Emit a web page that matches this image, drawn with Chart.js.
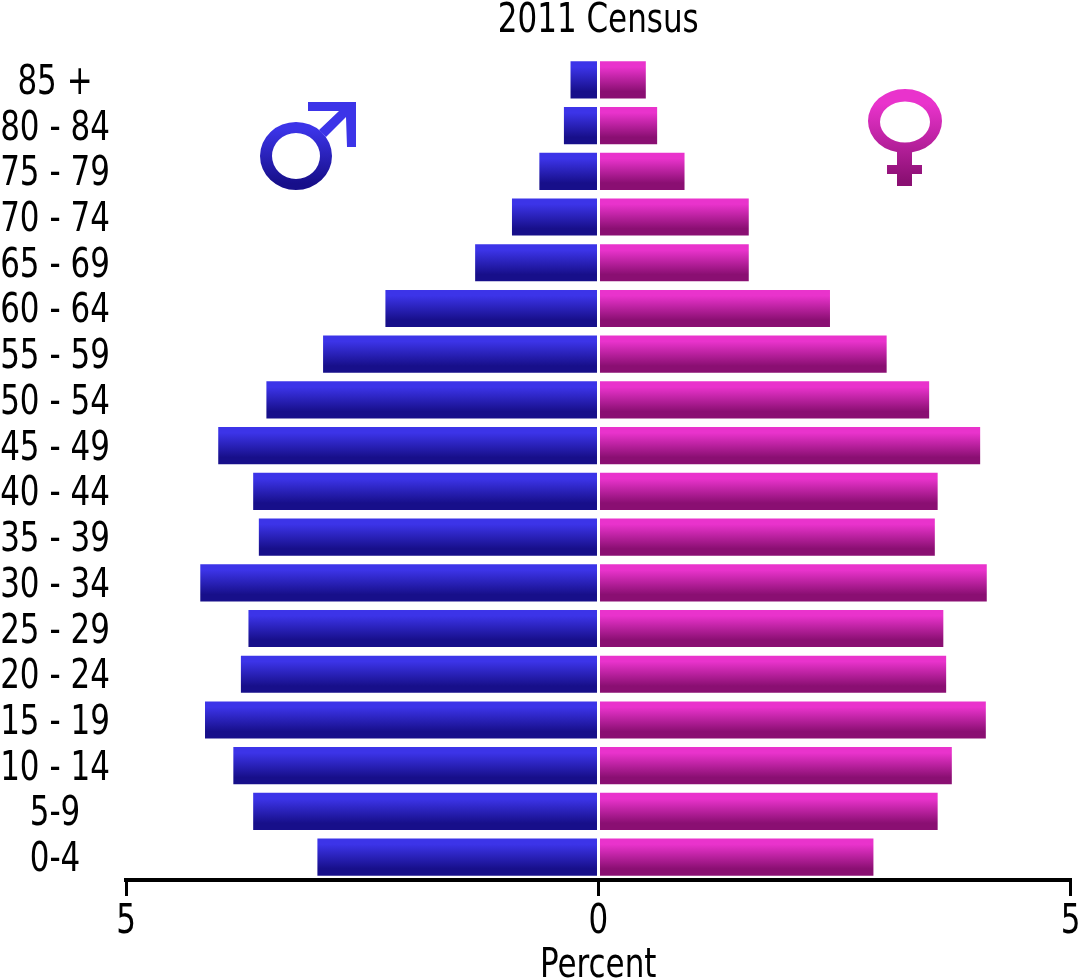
<!DOCTYPE html>
<html>
<head>
<meta charset="utf-8">
<title>2011 Census</title>
<script src="https://cdn.jsdelivr.net/npm/chart.js@4"></script>
<style>
    html, body { margin: 0; padding: 0; background: #fff; }
    canvas { display: block; }
</style>
</head>
<body>
<canvas id="pyramid" width="1080" height="979"></canvas>
<script>
// Age groups, top of the pyramid first
const ageGroups = ['85 +', '80 - 84', '75 - 79', '70 - 74', '65 - 69', '60 - 64', '55 - 59', '50 - 54', '45 - 49',
    '40 - 44', '35 - 39', '30 - 34', '25 - 29', '20 - 24', '15 - 19', '10 - 14', '5-9', '0-4'];

// Percent of population, males are negative so they go left
const males = [-0.29, -0.36, -0.62, -0.91, -1.30, -2.25, -2.91, -3.51, -4.02,
    -3.65, -3.59, -4.21, -3.70, -3.78, -4.16, -3.86, -3.65, -2.97];
const females = [0.50, 0.62, 0.91, 1.59, 1.59, 2.45, 3.05, 3.50, 4.04,
    3.59, 3.56, 4.11, 3.65, 3.68, 4.10, 3.74, 3.59, 2.91];

const xTicks = [-5, 0, 5];

const chartTitle = '2011 Census';
const xTitle = 'Percent';

const maleTop = '#3c34e8';
const maleBottom = '#170f8a';
const femaleTop = '#e933cc';
const femaleBottom = '#8a0f72';

const barHeight = 36.5;

// Vertical gradient for one bar, bright on top and dark at the bottom
function barGradient(context, top, bottom) {
    const chart = context.chart;
    if (!chart.chartArea) return top;
    const y = chart.scales.y.getPixelForValue(context.dataIndex);
    const g = chart.ctx.createLinearGradient(0, y - barHeight / 2, 0, y + barHeight / 2);
    g.addColorStop(0.15, top);
    g.addColorStop(0.82, bottom);
    return g;
}

// The original lettering is DejaVu squeezed sideways, so text is drawn with a horizontal scale
function drawLabel(ctx, text, x, baseline) {
    ctx.save();
    ctx.translate(x, baseline);
    ctx.scale(0.84, 1);
    ctx.font = "41px 'DejaVu Sans Condensed', 'DejaVu Sans'";
    ctx.fillStyle = '#000';
    ctx.textAlign = 'center';
    ctx.textBaseline = 'alphabetic';
    ctx.fillText(text, 0, 0);
    ctx.restore();
}

// Tick labels and titles
const textPlugin = {
    id: 'squeezedText',
    afterDraw(chart) {
        const ctx = chart.ctx;
        const { x, y } = chart.scales;
        y.ticks.forEach((tick, i) => drawLabel(ctx, tick.label, 55, y.getPixelForTick(i) + 14));
        x.ticks.forEach((tick, i) => drawLabel(ctx, tick.label, x.getPixelForTick(i), 933));
        drawLabel(ctx, chartTitle, x.getPixelForValue(0), 32);
        drawLabel(ctx, xTitle, x.getPixelForValue(0), 977);
    }
};

// Male and female symbols above the bars
const symbolsPlugin = {
    id: 'symbols',
    afterDatasetsDraw(chart) {
        const ctx = chart.ctx;
        ctx.save();

        // male ring
        let g = ctx.createLinearGradient(0, 122, 0, 190);
        g.addColorStop(0.1, maleTop);
        g.addColorStop(0.9, maleBottom);
        ctx.fillStyle = g;
        ctx.beginPath();
        ctx.ellipse(296, 156, 36, 34, 0, 0, Math.PI * 2);
        ctx.ellipse(296, 156, 24, 23, 0, 0, Math.PI * 2, true);
        ctx.fill();

        // male arrow
        ctx.fillStyle = maleTop;
        ctx.beginPath();
        ctx.moveTo(308, 102);
        ctx.lineTo(356, 102);
        ctx.lineTo(356, 147);
        ctx.lineTo(347, 147);
        ctx.lineTo(346, 117);
        ctx.lineTo(326, 137);
        ctx.lineTo(319, 130);
        ctx.lineTo(339, 111);
        ctx.lineTo(308, 111);
        ctx.closePath();
        ctx.fill();

        // female ring, stem and bar share one gradient
        g = ctx.createLinearGradient(0, 89, 0, 186);
        g.addColorStop(0.15, femaleTop);
        g.addColorStop(0.95, femaleBottom);
        ctx.fillStyle = g;
        ctx.beginPath();
        ctx.ellipse(905, 121, 37, 32, 0, 0, Math.PI * 2);
        ctx.ellipse(905, 122, 25, 20.5, 0, 0, Math.PI * 2, true);
        ctx.fill();
        ctx.fillRect(897, 151, 15, 35);
        ctx.fillRect(887, 165, 35, 9);

        ctx.restore();
    }
};

new Chart(document.getElementById('pyramid'), {
    type: 'bar',
    plugins: [symbolsPlugin, textPlugin],
    data: {
        labels: ageGroups,
        datasets: [
            {
                label: 'Male',
                data: males,
                barThickness: barHeight,
                backgroundColor: ctx => barGradient(ctx, maleTop, maleBottom)
            },
            {
                label: 'Female',
                data: females,
                barThickness: barHeight,
                backgroundColor: ctx => barGradient(ctx, femaleTop, femaleBottom)
            }
        ]
    },
    options: {
        indexAxis: 'y',
        responsive: false,
        animation: false,
        devicePixelRatio: 1,
        layout: { padding: { top: 57, right: 9.5, left: 0, bottom: 0 } },
        plugins: {
            legend: { display: false },
            tooltip: { enabled: false },
            title: { display: false }
        },
        scales: {
            x: {
                type: 'linear',
                min: -5,
                max: 5,
                afterBuildTicks: axis => { axis.ticks = xTicks.map(v => ({ value: v })); },
                afterFit: axis => { axis.height = 99; },
                border: { color: '#000', width: 4, z: 2 },
                // only the zero line shows, white, over the bars
                grid: {
                    z: 1,
                    drawTicks: true,
                    tickLength: 16,
                    tickColor: '#000',
                    tickWidth: 3,
                    lineWidth: 3,
                    color: c => (c.tick && c.tick.value === 0 ? '#fff' : 'rgba(0,0,0,0)')
                },
                ticks: {
                    display: false,
                    callback: v => String(Math.abs(v))
                }
            },
            y: {
                stacked: true,
                afterFit: axis => { axis.width = 126; },
                border: { display: false },
                grid: { display: false, drawTicks: false },
                ticks: { display: false, autoSkip: false }
            }
        }
    }
});
</script>
</body>
</html>
